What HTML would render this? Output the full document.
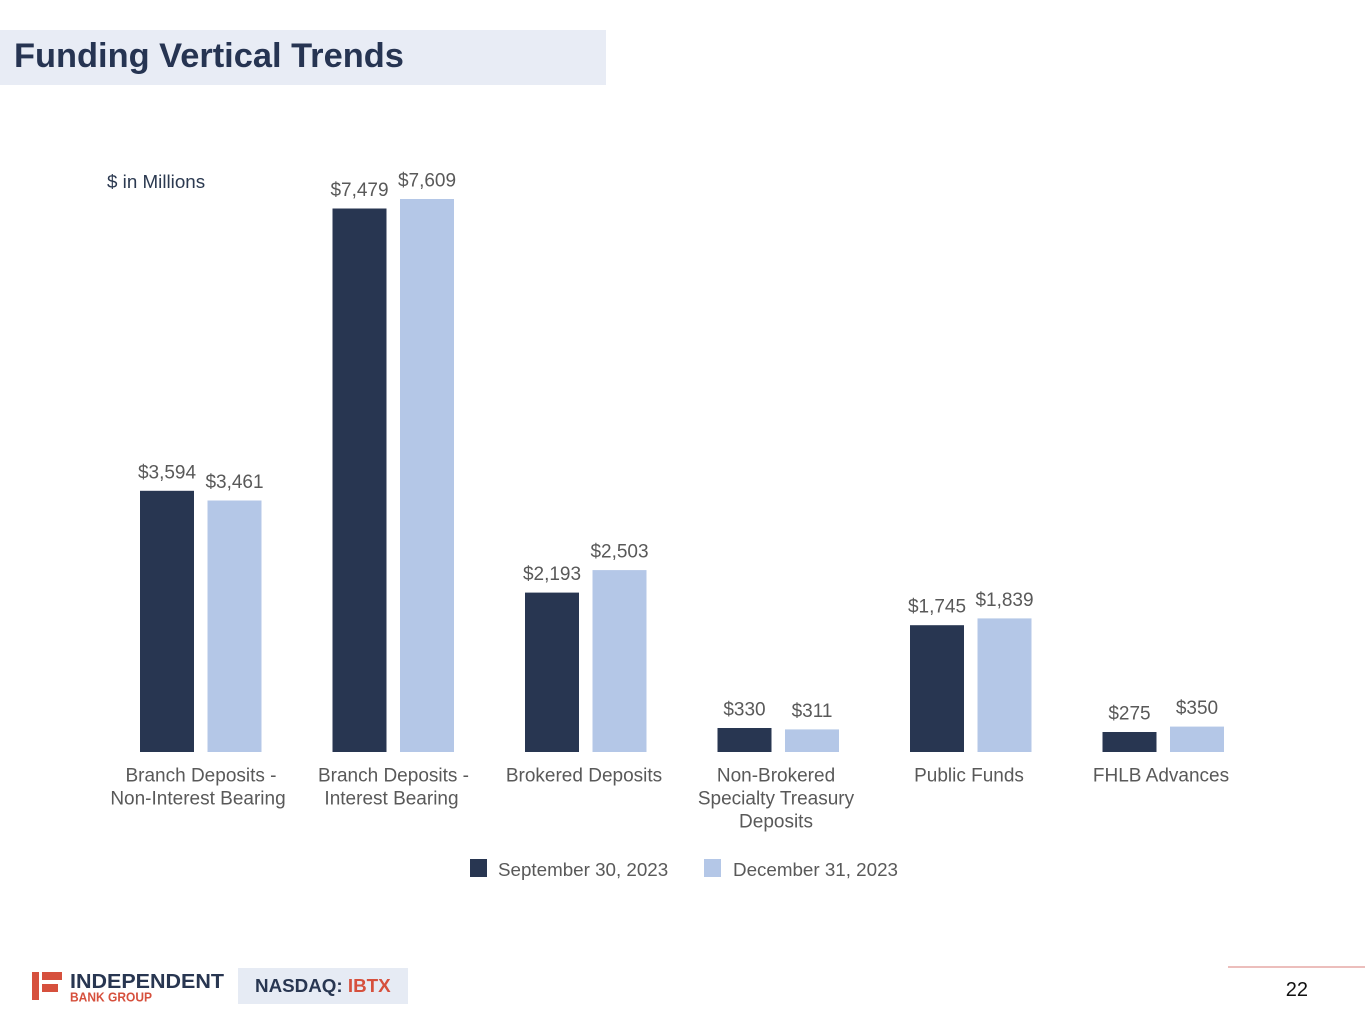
<!DOCTYPE html>
<html><head><meta charset="utf-8"><style>
html,body{margin:0;padding:0;background:#fff;}
svg{display:block;font-family:"Liberation Sans",Arial,sans-serif;}
</style></head><body>
<svg width="1365" height="1024" viewBox="0 0 1365 1024" xmlns="http://www.w3.org/2000/svg">
<rect x="0" y="30" width="606" height="55" fill="#e8ecf5"/>
<text x="14" y="67" font-size="34.4" font-weight="bold" fill="#263452">Funding Vertical Trends</text>
<text x="107" y="188" font-size="18.8" fill="#2b3950">$ in Millions</text>

<g fill="#283651">
<rect x="140" y="490.8" width="54" height="261.2"/>
<rect x="332.5" y="208.5" width="54" height="543.5"/>
<rect x="525" y="592.6" width="54" height="159.4"/>
<rect x="717.5" y="728" width="54" height="24"/>
<rect x="910" y="625.2" width="54" height="126.8"/>
<rect x="1102.5" y="732" width="54" height="20"/>
</g>
<g fill="#b4c7e7">
<rect x="207.5" y="500.5" width="54" height="251.5"/>
<rect x="400" y="199" width="54" height="553"/>
<rect x="592.5" y="570.1" width="54" height="181.9"/>
<rect x="785" y="729.4" width="54" height="22.6"/>
<rect x="977.5" y="618.4" width="54" height="133.6"/>
<rect x="1170" y="726.6" width="54" height="25.4"/>
</g>

<g font-size="19" fill="#595959" text-anchor="middle">
<text x="167" y="478.3">$3,594</text>
<text x="234.5" y="488">$3,461</text>
<text x="359.5" y="196">$7,479</text>
<text x="427" y="186.5">$7,609</text>
<text x="552" y="580.1">$2,193</text>
<text x="619.5" y="557.6">$2,503</text>
<text x="744.5" y="715.5">$330</text>
<text x="812" y="716.9">$311</text>
<text x="937" y="612.7">$1,745</text>
<text x="1004.5" y="605.9">$1,839</text>
<text x="1129.5" y="719.5">$275</text>
<text x="1197" y="714.1">$350</text>
</g>

<g font-size="19" fill="#595959" text-anchor="middle">
<text x="201" y="781.5">Branch Deposits -</text>
<text x="198" y="804.5">Non-Interest Bearing</text>
<text x="393.5" y="781.5">Branch Deposits -</text>
<text x="391.5" y="804.5">Interest Bearing</text>
<text x="584" y="781.5">Brokered Deposits</text>
<text x="776" y="781.5">Non-Brokered</text>
<text x="776" y="804.5">Specialty Treasury</text>
<text x="776" y="827.5">Deposits</text>
<text x="969" y="781.5">Public Funds</text>
<text x="1161" y="781.5">FHLB Advances</text>
</g>

<rect x="470" y="859" width="17" height="18" fill="#283651"/>
<text x="498" y="876" font-size="18.8" fill="#595959">September 30, 2023</text>
<rect x="704" y="859" width="17" height="18" fill="#b4c7e7"/>
<text x="733" y="876" font-size="18.8" fill="#595959">December 31, 2023</text>

<!-- footer logo -->
<g fill="#d6503d">
<rect x="32" y="972" width="7" height="28"/>
<rect x="42" y="972" width="20" height="8"/>
<rect x="42" y="984" width="16" height="8"/>
</g>
<text x="70" y="988" font-size="20" font-weight="bold" fill="#283651" textLength="154" lengthAdjust="spacingAndGlyphs">INDEPENDENT</text>
<text x="70" y="1001.5" font-size="13" font-weight="bold" fill="#d6503d" textLength="82" lengthAdjust="spacingAndGlyphs">BANK GROUP</text>

<rect x="238" y="968" width="170" height="36" fill="#e6ebf4"/>
<text x="255" y="992" font-size="18.8" font-weight="bold" fill="#283651">NASDAQ: <tspan fill="#d6503d">IBTX</tspan></text>

<line x1="1228" y1="967" x2="1365" y2="967" stroke="#e6a8a6" stroke-width="1.5"/>
<text x="1308" y="996" font-size="20" fill="#111" text-anchor="end">22</text>
</svg>
</body></html>
